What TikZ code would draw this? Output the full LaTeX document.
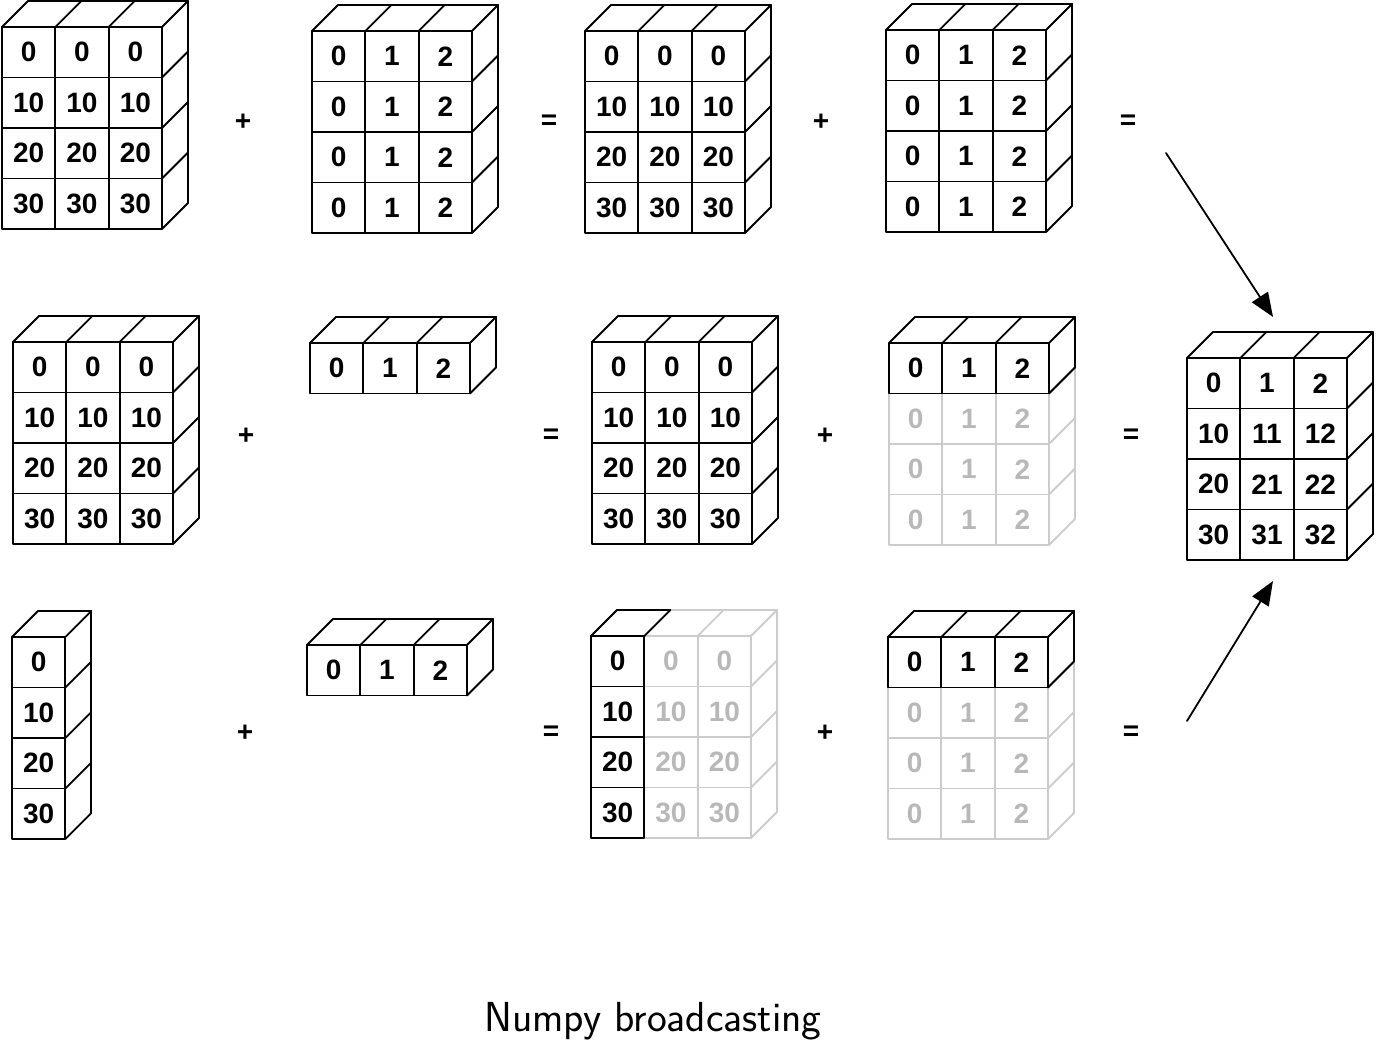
\documentclass[tikz,border=0pt]{standalone}
\usepackage{fontspec}
\newfontfamily\numfont{Liberation Sans}
\usetikzlibrary{arrows.meta}
\definecolor{lgray}{RGB}{204,204,204}
\definecolor{tgray}{RGB}{184,184,184}
\def\cw{53.33}
\def\ch{50.5}
\def\dd{26}
\tikzset{
  lw/.style={line width=1.8pt, line cap=round, line join=round},
  cell/.style={draw=black, lw, minimum width=\cw pt, minimum height=\ch pt, inner sep=0pt,
    font=\numfont\bfseries\fontsize{28}{28}\selectfont, text=black},
  gcell/.style={cell, draw=lgray, text=tgray},
  op/.style={font=\numfont\bfseries\fontsize{28}{28}\selectfont, inner sep=0pt},
  arr/.style={lw, -{Triangle[length=24pt,width=19pt]}},
  caption/.style={font=\sffamily\fontsize{42}{44}\selectfont, inner sep=0pt, anchor=base}
}
% top face: x, y (front top-left), cols, colour
\newcommand\topface[4]{%
  \draw[lw,draw=#4] ({#1+\dd},{#2-\dd}) -- ++({#3*\cw},0);
  \foreach \i in {0,...,#3}{\draw[lw,draw=#4] ({#1+\i*\cw},{#2}) -- ++(\dd,-\dd);}
}
% right face: x, y, cols, rows, colour
\newcommand\rightface[5]{%
  \draw[lw,draw=#5] ({#1+#3*\cw+\dd},{#2-\dd}) -- ++(0,{#4*\ch});
  \foreach \j in {1,...,#4}{\draw[lw,draw=#5] ({#1+#3*\cw},{#2+\j*\ch}) -- ++(\dd,-\dd);}
}
% cells: name, x, y, style, list c/r/label
\newcommand\cells[5]{%
  \edef\celllist{#5}%
  \foreach \c/\r/\t in \celllist {\node[#4] (#1-\r-\c) at ({#2+(\c-0.5)*\cw},{#3+(\r-0.5)*\ch}) {\t};}
}
\def\colvals{1/1/0,2/1/0,3/1/0,1/2/10,2/2/10,3/2/10,1/3/20,2/3/20,3/3/20,1/4/30,2/4/30,3/4/30}
\def\rowvals{1/1/0,2/1/1,3/1/2,1/2/0,2/2/1,3/2/2,1/3/0,2/3/1,3/3/2,1/4/0,2/4/1,3/4/2}
\begin{document}
\begin{tikzpicture}[x=1pt,y=-1pt]
\useasboundingbox (0,0) rectangle (1376,1040);
% ---------- row 1 ----------
\topface{2}{27}{3}{black}\rightface{2}{27}{3}{4}{black}
\cells{A1}{2}{27}{cell}{\colvals}
\topface{312}{31}{3}{black}\rightface{312}{31}{3}{4}{black}
\cells{B1}{312}{31}{cell}{\rowvals}
\topface{585}{31}{3}{black}\rightface{585}{31}{3}{4}{black}
\cells{C1}{585}{31}{cell}{\colvals}
\topface{886}{30}{3}{black}\rightface{886}{30}{3}{4}{black}
\cells{D1}{886}{30}{cell}{\rowvals}
\node[op] (p1) at (243,122.5) {+};
\node[op] (e1) at (549,122) {=};
\node[op] (q1) at (821,122.5) {+};
\node[op] (f1) at (1128,122) {=};
% ---------- row 2 ----------
\topface{13}{342}{3}{black}\rightface{13}{342}{3}{4}{black}
\cells{A2}{13}{342}{cell}{\colvals}
\topface{310}{343}{3}{black}\rightface{310}{343}{3}{1}{black}
\cells{B2}{310}{343}{cell}{1/1/0,2/1/1,3/1/2}
\topface{592}{342}{3}{black}\rightface{592}{342}{3}{4}{black}
\cells{C2}{592}{342}{cell}{\colvals}
\rightface{889}{343}{3}{4}{lgray}
\cells{D2}{889}{343}{gcell}{1/2/0,2/2/1,3/2/2,1/3/0,2/3/1,3/3/2,1/4/0,2/4/1,3/4/2}
\topface{889}{343}{3}{black}\rightface{889}{343}{3}{1}{black}
\cells{D2}{889}{343}{cell}{1/1/0,2/1/1,3/1/2}
\topface{1187}{358}{3}{black}\rightface{1187}{358}{3}{4}{black}
\cells{R}{1187}{358}{cell}{1/1/0,2/1/1,3/1/2,1/2/10,2/2/11,3/2/12,1/3/20,2/3/21,3/3/22,1/4/30,2/4/31,3/4/32}
\node[op] (p2) at (246,436.5) {+};
\node[op] (e2) at (551,436) {=};
\node[op] (q2) at (825,436.5) {+};
\node[op] (f2) at (1131,436) {=};
% ---------- row 3 ----------
\topface{12}{637}{1}{black}\rightface{12}{637}{1}{4}{black}
\cells{A3}{12}{637}{cell}{1/1/0,1/2/10,1/3/20,1/4/30}
\topface{307}{645}{3}{black}\rightface{307}{645}{3}{1}{black}
\cells{B3}{307}{645}{cell}{1/1/0,2/1/1,3/1/2}
\topface{591}{636}{3}{lgray}\rightface{591}{636}{3}{4}{lgray}
\cells{C3}{591}{636}{gcell}{2/1/0,3/1/0,2/2/10,3/2/10,2/3/20,3/3/20,2/4/30,3/4/30}
\topface{591}{636}{1}{black}
\cells{C3}{591}{636}{cell}{1/1/0,1/2/10,1/3/20,1/4/30}
\rightface{888}{637}{3}{4}{lgray}
\cells{D3}{888}{637}{gcell}{1/2/0,2/2/1,3/2/2,1/3/0,2/3/1,3/3/2,1/4/0,2/4/1,3/4/2}
\topface{888}{637}{3}{black}\rightface{888}{637}{3}{1}{black}
\cells{D3}{888}{637}{cell}{1/1/0,2/1/1,3/1/2}
\node[op] (p3) at (245,733.5) {+};
\node[op] (e3) at (551,733) {=};
\node[op] (q3) at (825,733.5) {+};
\node[op] (f3) at (1131,733) {=};
% ---------- arrows ----------
\coordinate (s1) at (1166,153);
\coordinate (t1) at (1273,317);
\coordinate (s2) at (1187,721);
\coordinate (t2) at (1273,581);
\draw[arr] (s1) -- (t1);
\draw[arr] (s2) -- (t2);
% ---------- caption ----------
\node[caption] (cap) at (653,1031) {Numpy broadcasting};
\end{tikzpicture}
\end{document}
